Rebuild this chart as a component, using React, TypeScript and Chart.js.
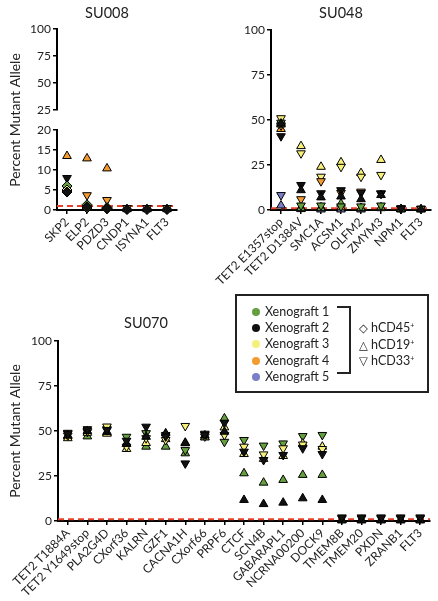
import React, { useEffect, useRef } from 'react';
import { Chart, registerables } from 'chart.js';

Chart.register(...registerables);

const FONT = 'Lato, "Liberation Sans", sans-serif';

// ---------- shared legend / style data ----------
const xenograftNames = ['Xenograft 1', 'Xenograft 2', 'Xenograft 3', 'Xenograft 4', 'Xenograft 5'];
const xenograftColors = ['#64a03e', '#111111', '#f6f07a', '#f39a30', '#7a80c6'];
const markerNames = ['hCD45', 'hCD19', 'hCD33'];
const markerSymbols = ['\u25C7', '\u25B3', '\u25BD'];
const thresholdValue = 1;

// ---------- SU008 ----------
const su008Categories = ['SKP2', 'ELP2', 'PDZD3', 'CNDP1', 'ISYNA1', 'FLT3'];
const su008X4Up = [13.5, 12.9, 10.4, 0.2, 0.2, 0.2];
const su008X4Down = [5.3, 3.7, 2.5, 0.5, 0.5, 0.5];
const su008X2Down = [8, null, null, null, null, null];
const su008X1Diamond = [6, 1.3, 0.6, null, null, null];
const su008X3Diamond = [5, 0.5, 0.3, null, null, null];
const su008X2Diamond = [4.5, 0.8, 0.4, 0.1, 0.1, 0.1];
const su008LowTicks = { min: 0, max: 20, step: 5 };
const su008HighTicks = { min: 25, max: 100, step: 25 };

// ---------- SU048 ----------
const su048Categories = ['TET2 E1357stop', 'TET2 D1384V', 'SMC1A', 'ACSM1', 'OLFM2', 'ZMYM3', 'NPM1', 'FLT3'];
const su048X1Up = [47.5, 1, 1, 3.5, 1, 1.5, 0.5, null];
const su048X1Down = [48.5, 2.5, 2.5, 2, 2, 2.5, 0.7, 0.6];
const su048X2Up = [48, 11, 7, 7.5, 6, 8.3, null, 0.3];
const su048X2Down = [41, 13.9, 9.3, 11, 9.5, 9, 0.8, null];
const su048X3Up = [49, 35.5, 24, 26.5, 20.5, 27.8, 0.5, 0.4];
const su048X3Down = [51, 31.5, 18.5, 24, 18.5, 19.5, null, null];
const su048X4Up = [45, 1.5, 1.5, 1.5, 1, 1, 0.3, null];
const su048X4Down = [47, 6, 16, 9.5, 10.2, 9.3, null, 0.8];
const su048X5Up = [2.5, 0.5, 0.3, 0.3, 0.3, null, null, null];
const su048X5Down = [8.3, null, null, null, null, null, 1, null];

// ---------- SU070 ----------
const su070Categories = [
  'TET2 T1884A', 'TET2 Y1649stop', 'PLA2G4D', 'CXorf36', 'KALRN', 'GZF1', 'CACNA1H', 'CXorf66', 'PRPF6',
  'CTCF', 'SCN4B', 'GABARAPL1', 'NCRNA00200', 'DOCK9', 'TMEM8B', 'TMEM20', 'PXDN', 'ZRANB1', 'FLT3',
];
const su070X1Down = [49, 49.5, 51, 46.8, 48.8, 47.8, 39.4, 48.5, 44, 45, 41.9, 43.1, 47.2, 47.8, null, null, null, null, null];
const su070X1Up = [47, 47, 49, 43, 41.3, 41.3, 37.6, 46.5, 57, 26.5, 21.3, 22.8, 25.6, 25.6, null, null, null, null, null];
const su070X2Down = [48.5, 51, 50.5, 44.6, 52.4, 47, 32, 48, 54.6, 38.5, 33.9, 36.7, 40.4, 37.2, 2, 2, 2, 2, 2];
const su070X2Up = [47.5, 50, 49.5, 42.8, 46.8, 48.7, 43.2, 47.5, 49.6, 11.7, 9.4, 10.2, 12.6, 11.7, 0.3, 0.3, 0.3, 0.3, 0.3];
const su070X3Down = [47.5, 50, 52.5, 41.3, 46, 45, 52.8, 47, 47.8, 41.3, 37, 40.4, 42.5, 40, 1.5, 1.5, 1.5, 1.5, 1.5];
const su070X3Up = [46, 49, 48.5, 40, 43.3, 45.5, 43.5, 46.5, 52, 37.2, 34.5, 36.1, 43, 41.3, 0.6, 0.6, 0.6, 0.6, 0.6];

const fullTicks = { min: 0, max: 100, step: 25 };

type Shape = 'up' | 'down' | 'diamond';

function series(label: string, data: (number | null)[], xeno: number, shape: Shape, yAxisID = 'y') {
  return {
    label,
    data,
    yAxisID,
    showLine: false,
    clip: false,
    pointStyle: shape === 'diamond' ? 'rectRot' : 'triangle',
    pointRotation: shape === 'down' ? 180 : 0,
    pointRadius: shape === 'diamond' ? 5 : 5,
    pointBorderWidth: 1,
    pointBackgroundColor: xenograftColors[xeno],
    pointBorderColor: '#000',
    backgroundColor: xenograftColors[xeno],
    borderColor: '#000',
  };
}

const thresholdPlugin = {
  id: 'threshold',
  beforeDatasetsDraw(chart: any, _args: any, opts: any) {
    const scale = chart.scales[opts.axis || 'y'];
    const { left, right } = chart.chartArea;
    const y = scale.getPixelForValue(thresholdValue);
    const ctx = chart.ctx;
    ctx.save();
    ctx.strokeStyle = '#e8432a';
    ctx.lineWidth = 2;
    ctx.setLineDash([6, 4]);
    ctx.beginPath();
    ctx.moveTo(left, y);
    ctx.lineTo(right, y);
    ctx.stroke();
    ctx.restore();
  },
};

const tickFont = { size: 12, family: FONT };

function xScale(labels: string[]) {
  return {
    type: 'category',
    labels,
    offset: true,
    grid: { display: true, drawOnChartArea: false, drawTicks: true, tickLength: 4, color: '#000', lineWidth: 1.5, offset: false },
    border: { display: true, color: '#000', width: 2 },
    ticks: { autoSkip: false, maxRotation: 45, minRotation: 45, padding: 1, color: '#222', font: tickFont },
    afterFit: (s: any) => { s.height = 80; },
  };
}

function yScale(t: { min: number; max: number; step: number }, width: number, extra: any = {}) {
  return {
    type: 'linear',
    position: 'left',
    min: t.min,
    max: t.max,
    ticks: { stepSize: t.step, autoSkip: false, padding: 2, color: '#222', font: tickFont },
    grid: { display: true, drawOnChartArea: false, drawTicks: true, tickLength: 4, color: '#000', lineWidth: 1.5 },
    border: { display: true, color: '#000', width: 2 },
    afterFit: (s: any) => { s.width = width; },
    ...extra,
  };
}

const axisTitle = {
  display: true,
  text: 'Percent Mutant Allele',
  color: '#222',
  font: { size: 14, family: FONT },
  padding: { top: 7, bottom: 0 },
};

function baseOptions(padding: any, scales: any, thresholdAxis: string) {
  return {
    responsive: false,
    maintainAspectRatio: false,
    animation: false,
    devicePixelRatio: 1,
    layout: { padding },
    scales,
    plugins: {
      legend: { display: false },
      tooltip: { enabled: false },
      title: { display: false },
      threshold: { axis: thresholdAxis },
    },
  };
}

function su008Config() {
  const datasets = [
    series('X2 diamond', su008X2Diamond, 1, 'diamond', 'yLow'),
    series('X3 diamond', su008X3Diamond, 2, 'diamond', 'yLow'),
    series('X1 diamond', su008X1Diamond, 0, 'diamond', 'yLow'),
    series('X2 down', su008X2Down, 1, 'down', 'yLow'),
    series('X4 down', su008X4Down, 3, 'down', 'yLow'),
    series('X4 up', su008X4Up, 3, 'up', 'yLow'),
  ];
  const scales = {
    x: xScale(su008Categories),
    yLow: yScale(su008LowTicks, 57, { stack: 'ybroken', stackWeight: 80 }),
    yGap: {
      type: 'linear',
      position: 'left',
      stack: 'ybroken',
      stackWeight: 20,
      ticks: { display: false },
      grid: { display: false },
      border: { display: false },
      title: axisTitle,
      afterFit: (s: any) => { s.width = 57; },
    },
    yHigh: yScale(su008HighTicks, 57, { stack: 'ybroken', stackWeight: 81 }),
  };
  return {
    type: 'line',
    data: { labels: su008Categories, datasets },
    options: baseOptions({ top: 29, right: 23, bottom: 0, left: 0 }, scales, 'yLow'),
    plugins: [thresholdPlugin],
  };
}

function su048Config() {
  const datasets = [
    series('X2 up', su048X2Up, 1, 'up'),
    series('X2 down', su048X2Down, 1, 'down'),
    series('X1 down', su048X1Down, 0, 'down'),
    series('X1 up', su048X1Up, 0, 'up'),
    series('X4 down', su048X4Down, 3, 'down'),
    series('X4 up', su048X4Up, 3, 'up'),
    series('X5 down', su048X5Down, 4, 'down'),
    series('X5 up', su048X5Up, 4, 'up'),
    series('X3 down', su048X3Down, 2, 'down'),
    series('X3 up', su048X3Up, 2, 'up'),
  ];
  const scales = {
    x: xScale(su048Categories),
    y: yScale(fullTicks, 71),
  };
  return {
    type: 'line',
    data: { labels: su048Categories, datasets },
    options: baseOptions({ top: 30, right: 7, bottom: 0, left: 0 }, scales, 'y'),
    plugins: [thresholdPlugin],
  };
}

function su070Config() {
  const datasets = [
    series('X2 down', su070X2Down, 1, 'down'),
    series('X2 up', su070X2Up, 1, 'up'),
    series('X3 down', su070X3Down, 2, 'down'),
    series('X3 up', su070X3Up, 2, 'up'),
    series('X1 down', su070X1Down, 0, 'down'),
    series('X1 up', su070X1Up, 0, 'up'),
  ];
  const scales = {
    x: xScale(su070Categories),
    y: yScale(fullTicks, 58, { title: axisTitle }),
  };
  return {
    type: 'line',
    data: { labels: su070Categories, datasets },
    options: baseOptions({ top: 41, right: 8, bottom: 0, left: 0 }, scales, 'y'),
    plugins: [thresholdPlugin],
  };
}

function ChartCanvas({ make, left, top, width, height }: { make: () => any; left: number; top: number; width: number; height: number }) {
  const ref = useRef<HTMLCanvasElement>(null);
  useEffect(() => {
    const chart = new Chart(ref.current as HTMLCanvasElement, make());
    return () => chart.destroy();
  }, []);
  return (
    <canvas
      ref={ref}
      width={width}
      height={height}
      style={{ position: 'absolute', left, top, width, height }}
    />
  );
}

function Title({ text, x, y }: { text: string; x: number; y: number }) {
  return (
    <div
      style={{
        position: 'absolute',
        left: x,
        top: y,
        transform: 'translate(-50%, -50%)',
        fontSize: 14.5,
        fontFamily: FONT,
        color: '#222',
        whiteSpace: 'nowrap',
        lineHeight: 1,
      }}
    >
      {text}
    </div>
  );
}

function Legend() {
  const rowY = [15.7, 31.9, 48.3, 64.7, 81.1];
  const markerY = [32, 48.5, 65];
  return (
    <div
      style={{
        position: 'absolute',
        left: 235,
        top: 294,
        width: 194,
        height: 99,
        boxSizing: 'border-box',
        border: '2px solid #222',
        fontFamily: FONT,
        fontSize: 12.5,
        color: '#222',
        background: 'transparent',
      }}
    >
      {xenograftNames.map((name, i) => (
        <React.Fragment key={name}>
          <div
            style={{
              position: 'absolute',
              left: 15,
              top: rowY[i] - 4,
              width: 8,
              height: 8,
              borderRadius: '50%',
              background: xenograftColors[i],
            }}
          />
          <div style={{ position: 'absolute', left: 28, top: rowY[i] - 7, lineHeight: '14px', whiteSpace: 'nowrap' }}>{name}</div>
        </React.Fragment>
      ))}
      <div
        style={{
          position: 'absolute',
          left: 100,
          top: 10,
          width: 14,
          height: 68,
          boxSizing: 'border-box',
          borderTop: '2px solid #222',
          borderRight: '2px solid #222',
          borderBottom: '2px solid #222',
        }}
      />
      {markerNames.map((m, i) => (
        <div
          key={m}
          style={{ position: 'absolute', left: 122, top: markerY[i] - 7, lineHeight: '14px', whiteSpace: 'nowrap' }}
        >
          <span style={{ fontFamily: '"DejaVu Sans", sans-serif', fontSize: 11.5 }}>{markerSymbols[i]}</span> {m}
          <sup style={{ fontSize: 7, verticalAlign: 'top', lineHeight: '8px' }}>+</sup>
        </div>
      ))}
    </div>
  );
}

export default function App() {
  return (
    <div
      style={{
        position: 'absolute',
        left: 0,
        top: 0,
        width: 438,
        height: 601,
        overflow: 'hidden',
        background: '#fff',
      }}
    >
      <ChartCanvas make={su008Config} left={0} top={0} width={200} height={290} />
      <ChartCanvas make={su048Config} left={200} top={0} width={238} height={290} />
      <ChartCanvas make={su070Config} left={0} top={300} width={438} height={301} />
      <Title text="SU008" x={107} y={13} />
      <Title text="SU048" x={341} y={13} />
      <Title text="SU070" x={146} y={323} />
      <Legend />
    </div>
  );
}
